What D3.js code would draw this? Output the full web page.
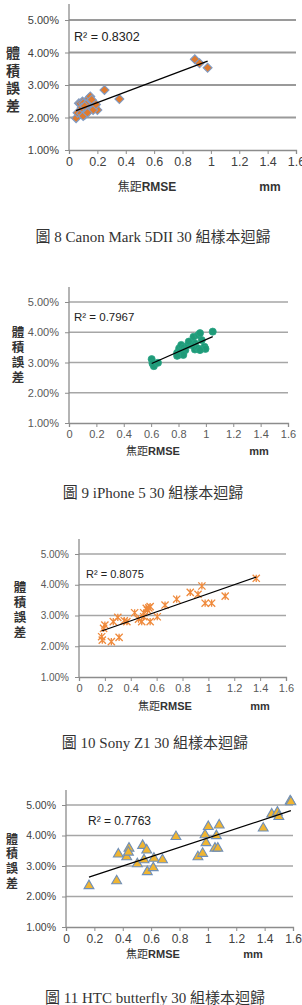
<!DOCTYPE html>
<html>
<head>
<meta charset="utf-8">
<script src="https://cdn.jsdelivr.net/npm/d3@7"></script>
<style>
  body { margin: 0; background: #fff; }
  svg { display: block; }
</style>
</head>
<body>
<div id="chart"></div>
<script>
/* Four regression scatter plots: volume error vs focal RMSE */

const xTicks = [0, 0.2, 0.4, 0.6, 0.8, 1, 1.2, 1.4, 1.6];
const xTickLabels = ["0", "0.2", "0.4", "0.6", "0.8", "1", "1.2", "1.4", "1.6"];
const yTicks = [1, 2, 3, 4, 5];
const yTickLabels = ["1.00%", "2.00%", "3.00%", "4.00%", "5.00%"];

const captions = [
    "圖 8 Canon Mark 5DII 30 組樣本迴歸",
    "圖 9 iPhone 5 30 組樣本迴歸",
    "圖 10 Sony Z1 30 組樣本迴歸",
    "圖 11 HTC butterfly 30 組樣本迴歸"
];
const r2Labels = ["R² = 0.8302", "R² = 0.7967", "R² = 0.8075", "R² = 0.7763"];
const yTitle = "體積誤差";

// focal RMSE (mm) and volume error (%)
const canonX = [0.05, 0.06, 0.085, 0.11, 0.07, 0.095, 0.14, 0.15, 0.12, 0.14, 0.18, 0.20, 0.25, 0.355, 0.887,
                0.92, 0.977, 0.13, 0.08, 0.10, 0.10, 0.15, 0.17, 0.17, 0.16, 0.12, 0.09, 0.13, 0.19, 0.11];
const canonY = [1.98, 2.15, 2.13, 2.08, 2.44, 2.49, 2.59, 2.49, 2.28, 2.23, 2.33, 2.23, 2.85, 2.57, 3.79,
                3.67, 3.53, 2.38, 2.42, 2.44, 2.05, 2.65, 2.42, 2.23, 2.55, 2.40, 2.30, 2.15, 2.40, 2.35];

const iphoneX = [0.604, 0.61, 0.62, 0.65, 0.79, 0.805, 0.82, 0.835, 0.84, 0.87, 0.885, 0.91, 0.92, 0.93, 0.945,
                 0.957, 0.97, 0.99, 0.997, 1.05, 0.80, 0.81, 0.85, 0.895, 0.92, 0.945, 0.957, 0.835, 0.875, 0.79];
const iphoneY = [3.11, 2.97, 2.88, 2.99, 3.32, 3.47, 3.58, 3.32, 3.50, 3.58, 3.69, 3.85, 3.63, 3.47, 3.91,
                 3.97, 3.74, 3.52, 3.45, 4.02, 3.25, 3.35, 3.41, 3.58, 3.43, 3.46, 3.41, 3.25, 3.69, 3.22];

const sonyX = [0.175, 0.18, 0.25, 0.31, 0.20, 0.265, 0.30, 0.35, 0.37, 0.43, 0.46, 0.485, 0.50, 0.50, 0.52,
               0.53, 0.55, 0.55, 0.605, 0.665, 0.755, 0.86, 0.92, 0.95, 0.975, 1.025, 1.13, 1.37, 0.19, 0.54];
const sonyY = [2.31, 2.20, 2.15, 2.29, 2.69, 2.80, 2.94, 2.83, 2.80, 3.09, 2.88, 2.80, 2.96, 3.09, 3.23,
               3.17, 3.29, 2.80, 2.96, 3.34, 3.53, 3.75, 3.69, 3.96, 3.40, 3.40, 3.63, 4.21, 2.58, 3.25];

const htcX = [0.162, 0.357, 0.369, 0.428, 0.444, 0.44, 0.503, 0.54, 0.569, 0.55, 0.573, 0.615, 0.62, 0.68, 0.775,
              0.93, 0.963, 0.98, 0.987, 1.003, 1.05, 1.07, 1.06, 1.08, 1.39, 1.45, 1.49, 1.50, 1.58, 1.585];
const htcY = [2.35, 2.51, 3.39, 3.30, 3.58, 3.45, 3.07, 3.67, 3.52, 3.20, 2.81, 2.94, 3.25, 3.20, 3.96,
              3.30, 3.41, 4.02, 3.76, 4.29, 3.58, 3.58, 3.99, 4.34, 4.24, 4.70, 4.76, 4.62, 5.13, 5.10];

const width = 302, height = 1005;

let svg = d3.select("#chart")
    .append("svg")
    .attr("width", width)
    .attr("height", height)
    .attr("viewBox", [0, 0, width, height]);

// excel "star" marker: an X with a vertical stroke
const starSymbol = {
    draw(ctx, size) {
        const r = Math.sqrt(size) / 2;
        ctx.moveTo(-r, -r); ctx.lineTo(r, r);
        ctx.moveTo(r, -r); ctx.lineTo(-r, r);
        ctx.moveTo(0, -r); ctx.lineTo(0, r);
    }
};

// layout per panel (pixels on page)
// yChars: [x, first char centre y, step]
const panels = [
    { xs: canonX, ys: canonY, left: 69, right: 296, top: 4, y5: 20, bottom: 150,
      marker: "diamond", yFont: 11, xFont: 12.5, r2Font: 12.5, textFill: "#404040",
      r2: [74, 37], xTitle: [147, 187], mm: 270, yChars: [13, 53, 17.5], titleFont: 14, axFont: 12,
      cap: [153, 237] },
    { xs: iphoneX, ys: iphoneY, left: 69, right: 288, top: 287, y5: 302, bottom: 423,
      marker: "circle", yFont: 11, xFont: 11, r2Font: 11.5, textFill: "#595959",
      r2: [74, 317], xTitle: [153, 451], mm: 259, yChars: [18, 332, 15], titleFont: 12.5, axFont: 11,
      cap: [153, 493] },
    { xs: sonyX, ys: sonyY, left: 79, right: 286, top: 539, y5: 554, bottom: 677,
      marker: "star", yFont: 10, xFont: 11, r2Font: 11, textFill: "#595959",
      r2: [86, 574], xTitle: [165, 706], mm: 260, yChars: [20, 587, 15], titleFont: 12.5, axFont: 11,
      cap: [155, 743] },
    { xs: htcX, ys: htcY, left: 66, right: 293, top: 790, y5: 805, bottom: 927,
      marker: "triangle", yFont: 10.5, xFont: 12, r2Font: 12, textFill: "#404040",
      r2: [88, 821], xTitle: [153, 954], mm: 253, yChars: [12, 839, 14.7], titleFont: 12, axFont: 11,
      cap: [155, 998] }
];

panels.forEach((p, i) => {
    let g = svg.append("g");

    let x = d3.scaleLinear()
        .domain([0, 1.6])
        .range([p.left, p.right]);

    let y = d3.scaleLinear()
        .domain([1, 5])
        .range([p.bottom, p.y5]);

    // horizontal gridlines
    g.selectAll(".grid")
        .data(yTicks.slice(1))
        .join("line")
        .attr("x1", p.left)
        .attr("x2", p.right)
        .attr("y1", d => y(d))
        .attr("y2", d => y(d))
        .attr("stroke", i === 0 ? "#9a9a9a" : "#a6a6a6")
        .attr("stroke-width", i === 0 ? 1.8 : 1.4);

    // x axis (gray line with outward ticks)
    let xAxis = g.append("g")
        .attr("transform", `translate(0,${p.bottom})`)
        .call(d3.axisBottom(x).tickValues(xTicks).tickSize(4).tickPadding(3)
            .tickFormat((d, k) => xTickLabels[k]));
    xAxis.select(".domain").attr("stroke", "#8c8c8c").attr("stroke-width", 1.3);
    xAxis.selectAll(".tick line").attr("stroke", "#8c8c8c");
    xAxis.selectAll(".tick text")
        .attr("fill", p.textFill)
        .style("font-family", "'Liberation Sans', Arial, sans-serif")
        .style("font-size", p.xFont + "px");

    // y axis
    let yAxis = g.append("g")
        .attr("transform", `translate(${p.left},0)`)
        .call(d3.axisLeft(y).tickValues(yTicks).tickSize(4).tickPadding(6)
            .tickFormat((d, k) => yTickLabels[k]));
    yAxis.select(".domain").remove();
    yAxis.append("line")
        .attr("y1", p.top)
        .attr("y2", p.bottom)
        .attr("stroke", "#8c8c8c")
        .attr("stroke-width", 1.3);
    yAxis.selectAll(".tick line").attr("stroke", "#8c8c8c");
    yAxis.selectAll(".tick text")
        .attr("fill", p.textFill)
        .style("font-family", "'Liberation Sans', Arial, sans-serif")
        .style("font-size", p.yFont + "px");

    // least squares trendline
    let data = p.xs.map((v, k) => ({ x: v, y: p.ys[k] }));
    let mx = d3.mean(data, d => d.x), my = d3.mean(data, d => d.y);
    let slope = d3.sum(data, d => (d.x - mx) * (d.y - my)) / d3.sum(data, d => (d.x - mx) ** 2);
    let icpt = my - slope * mx;
    let [x0, x1] = d3.extent(data, d => d.x);

    // markers
    let sym = d3.symbol();
    let marks = g.selectAll(".pt")
        .data(data)
        .join("path")
        .attr("transform", d => `translate(${x(d.x)},${y(d.y)})` + (p.marker === "diamond" ? " rotate(45)" : ""));

    if (p.marker === "diamond") {
        marks.attr("d", sym.type(d3.symbolSquare).size(40)())
            .attr("fill", "#e07a2e").attr("stroke", "#7f9cc6").attr("stroke-width", 1.1);
    } else if (p.marker === "circle") {
        marks.attr("d", sym.type(d3.symbolCircle).size(40)())
            .attr("fill", "#1f9a78").attr("stroke", "#2aa585").attr("stroke-width", 0.8);
    } else if (p.marker === "star") {
        marks.attr("d", sym.type(starSymbol).size(52)())
            .attr("fill", "none").attr("stroke", "#ef8a3c").attr("stroke-width", 1.3);
    } else {
        marks.attr("d", sym.type(d3.symbolTriangle).size(42)())
            .attr("fill", "#f0b531").attr("stroke", "#6f8fb8").attr("stroke-width", 1.1);
    }

    g.append("line")
        .attr("x1", x(x0)).attr("y1", y(icpt + slope * x0))
        .attr("x2", x(x1)).attr("y2", y(icpt + slope * x1))
        .attr("stroke", "#000")
        .attr("stroke-width", 1.2);

    // R squared label
    g.append("text")
        .attr("x", p.r2[0])
        .attr("y", p.r2[1])
        .attr("dy", "0.35em")
        .attr("fill", "#222")
        .style("font-family", "'Liberation Sans', Arial, sans-serif")
        .style("font-size", p.r2Font + "px")
        .text(r2Labels[i]);

    // vertical y title, one text element in vertical writing mode
    let gap = p.yChars[2] - p.titleFont;
    g.append("text")
        .attr("x", p.yChars[0])
        .attr("y", p.yChars[1] - p.titleFont / 2)
        .attr("fill", "#333")
        .style("writing-mode", "vertical-rl")
        .style("letter-spacing", gap + "px")
        .style("font-family", "'Noto Sans CJK TC', sans-serif")
        .style("font-weight", "bold")
        .style("font-size", p.titleFont + "px")
        .text(yTitle);

    // x titles
    let xt = g.append("text")
        .attr("x", p.xTitle[0])
        .attr("y", p.xTitle[1])
        .attr("dy", "0.35em")
        .attr("text-anchor", "middle")
        .attr("fill", "#333")
        .style("font-size", p.axFont + "px");
    xt.append("tspan").style("font-family", "'Noto Sans CJK TC', sans-serif").text("焦距");
    xt.append("tspan").style("font-family", "'Liberation Sans', Arial, sans-serif")
        .style("font-weight", "bold").text("RMSE");

    g.append("text")
        .attr("x", p.mm)
        .attr("y", p.xTitle[1])
        .attr("dy", "0.35em")
        .attr("text-anchor", "middle")
        .attr("fill", "#333")
        .style("font-family", "'Liberation Sans', Arial, sans-serif")
        .style("font-weight", "bold")
        .style("font-size", p.axFont + "px")
        .text("mm");

    // caption
    svg.append("text")
        .attr("x", p.cap[0])
        .attr("y", p.cap[1])
        .attr("dy", "0.35em")
        .attr("text-anchor", "middle")
        .attr("fill", "#333")
        .style("font-family", "'Liberation Serif', 'Noto Sans CJK TC', serif")
        .style("font-size", "15px")
        .text(captions[i]);
});
</script>
</body>
</html>
